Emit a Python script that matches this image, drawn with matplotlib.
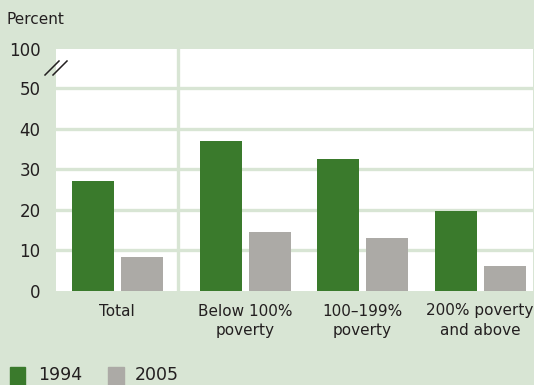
import matplotlib
matplotlib.use("Agg")
import matplotlib.pyplot as plt
from matplotlib.lines import Line2D
import numpy as np

# Data
categories = ["Total", "Below 100%\npoverty", "100\u2013199%\npoverty", "200% poverty\nand above"]
years = ["1994", "2005"]
values_1994 = [27.2, 37.0, 32.6, 19.8]
values_2005 = [8.4, 14.6, 13.1, 6.2]
ytick_values = [0, 10, 20, 30, 40, 50]
ytick_labels = ["0", "10", "20", "30", "40", "50"]

BG = "#d8e5d4"
GREEN = "#3a7a2c"
GRAY = "#acaaa6"
TEXT = "#231f20"

plt.rcParams["font.family"] = ["DejaVu Sans"]

fig = plt.figure(figsize=(5.34, 3.85), dpi=100, facecolor=BG)
ax = fig.add_axes([56 / 534, (385 - 291) / 385, 477 / 534, (291 - 49) / 385])
ax.set_facecolor("white")

# group centres (Total set slightly apart from the poverty groups)
centers = np.array([0.0, 1.09, 2.085, 3.09])
width = 0.357
offset = 0.2085

ax.bar(centers - offset, values_1994, width, color=GREEN, zorder=3)
ax.bar(centers + offset, values_2005, width, color=GRAY, zorder=3)

ymax = 59.75
ax.set_ylim(0, ymax)
ax.set_xlim(-0.52, 3.54)

# horizontal gridlines and the separator after "Total"
for v in ytick_values[1:]:
    ax.axhline(v, color=BG, lw=2.4, zorder=1)
ax.axvline(0.52, color=BG, lw=2.4, zorder=1)

for s in ax.spines.values():
    s.set_visible(False)

ax.set_yticks(ytick_values + [ymax])
ax.set_yticklabels(ytick_labels + ["100"], fontsize=12, color=TEXT)
ax.set_xticks(centers)
ax.set_xticklabels(categories, fontsize=11, color=TEXT, linespacing=1.4)
ax.tick_params(axis="y", length=0, pad=11)
ax.tick_params(axis="x", length=0, pad=9)

# axis break marks between 50 and 100
for dx in (0, 8):
    fig.add_artist(Line2D([(45 + dx) / 534, (59 + dx) / 534],
                          [(385 - 75) / 385, (385 - 61) / 385],
                          color=TEXT, lw=1.1))

fig.text(7 / 534, (385 - 19) / 385, "Percent", fontsize=11, color=TEXT,
         ha="left", va="center")

# legend along the bottom edge
leg_y = 1 / 385
fig.patches.append(plt.Rectangle((10 / 534, 0), 15 / 534, 18 / 385,
                                 transform=fig.transFigure, color=GREEN))
fig.text(38 / 534, leg_y, years[0], fontsize=12.5, color=TEXT,
         ha="left", va="bottom")
fig.patches.append(plt.Rectangle((108 / 534, 0), 16 / 534, 18 / 385,
                                 transform=fig.transFigure, color=GRAY))
fig.text(135 / 534, leg_y, years[1], fontsize=12.5, color=TEXT,
         ha="left", va="bottom")

fig.savefig("out.png", dpi=100, facecolor=BG)
